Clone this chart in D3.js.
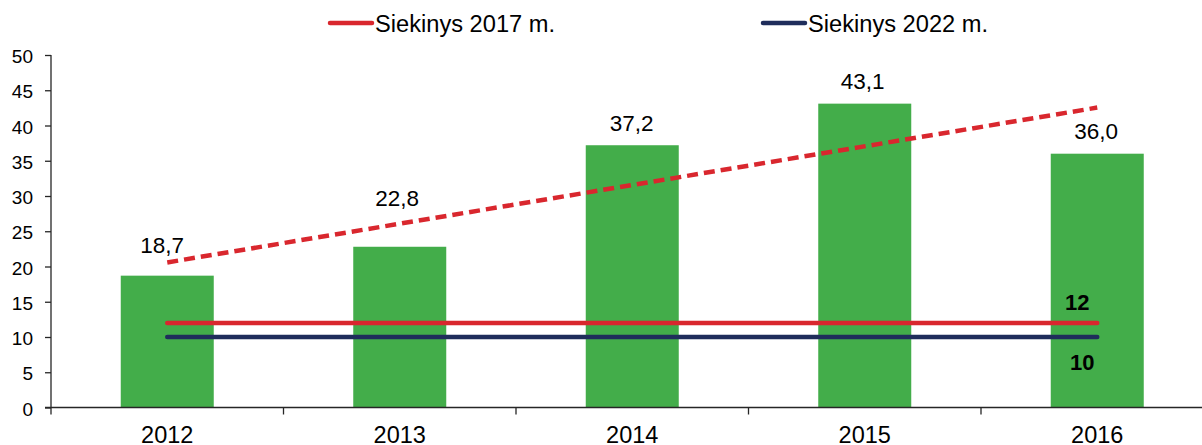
<!DOCTYPE html>
<html>
<head>
<meta charset="utf-8">
<script src="https://cdn.jsdelivr.net/npm/d3@7"></script>
<style>
  html, body { margin: 0; padding: 0; background: #fff; }
  svg { display: block; font-family: "Liberation Sans", Arial, sans-serif; }
</style>
</head>
<body>
<svg id="chart" width="1202" height="445"></svg>
<script>
// ---- data ----
const categories = ["2012", "2013", "2014", "2015", "2016"];
const values = [18.7, 22.8, 37.2, 43.1, 36.0];
const valueLabels = ["18,7", "22,8", "37,2", "43,1", "36,0"];
const targetNames = ["Siekinys 2017 m.", "Siekinys 2022 m."];
const targetValues = [12, 10];
const yTicks = [0, 5, 10, 15, 20, 25, 30, 35, 40, 45, 50];

// ---- styling / label nudges ----
const green = "#43ad4a", red = "#d9272e", navy = "#1f2d5b", axisCol = "#262626";
const targetColors = [red, navy];
const labelDx = [-5, -2.5, -0.5, -2, -1];
const labelDy = [-23, -41, -14, -14.7, -15];

const svg = d3.select("#chart");

const y = d3.scaleLinear().domain([0, 50]).range([407.5, 55]);
const x = d3.scaleBand().domain(categories).range([51, 1213.5]).padding(0);
const bw = x.bandwidth() * 0.4;
const cx = c => x(c) + x.bandwidth() / 2;

// bars
svg.append("g").selectAll("rect").data(categories).join("rect")
  .attr("x", c => cx(c) - bw / 2)
  .attr("width", bw)
  .attr("y", (c, i) => y(values[i]))
  .attr("height", (c, i) => y(0) - y(values[i]))
  .attr("fill", green);

// value labels
svg.append("g").selectAll("text").data(categories).join("text")
  .attr("x", (c, i) => cx(c) + labelDx[i])
  .attr("y", (c, i) => y(values[i]) + labelDy[i])
  .attr("text-anchor", "middle")
  .attr("font-size", 22.5)
  .attr("fill", "#000")
  .text((c, i) => valueLabels[i]);

// target lines
const first = categories[0], last = categories[categories.length - 1];
targetValues.forEach((v, i) => {
  svg.append("line")
    .attr("x1", cx(first)).attr("x2", cx(last))
    .attr("y1", y(v)).attr("y2", y(v))
    .attr("stroke", targetColors[i]).attr("stroke-width", 4.5)
    .attr("stroke-linecap", "round");
});

// target value labels
svg.append("text").attr("x", cx(last) - 20).attr("y", y(targetValues[0]) - 13)
  .attr("text-anchor", "middle").attr("font-size", 22).attr("font-weight", "bold")
  .text(String(targetValues[0]));
svg.append("text").attr("x", cx(last) - 15).attr("y", y(targetValues[1]) + 33)
  .attr("text-anchor", "middle").attr("font-size", 22).attr("font-weight", "bold")
  .text(String(targetValues[1]));

// linear trendline (least squares over the bar values)
const n = values.length;
const mx = d3.mean(d3.range(n)), my = d3.mean(values);
const slope = d3.sum(values, (v, i) => (i - mx) * (v - my)) / d3.sum(d3.range(n), i => (i - mx) ** 2);
const icpt = my - slope * mx;
svg.append("line")
  .attr("x1", cx(first)).attr("y1", y(icpt))
  .attr("x2", cx(last)).attr("y2", y(icpt + slope * (n - 1)))
  .attr("stroke", red).attr("stroke-width", 4.5)
  .attr("stroke-dasharray", "11,6");

// y axis
const yAxis = svg.append("g").attr("transform", "translate(51,0)")
  .call(d3.axisLeft(y).tickValues(yTicks).tickSize(6).tickPadding(12).tickFormat(d3.format("d")));
yAxis.select(".domain").remove();
yAxis.selectAll(".tick line").attr("stroke", axisCol).attr("stroke-width", 1.3);
yAxis.selectAll(".tick text").attr("font-size", 19).attr("fill", "#000")
  .attr("font-family", "Liberation Sans, Arial, sans-serif").attr("dy", "0.4em");
svg.append("line").attr("x1", 51).attr("x2", 51).attr("y1", y(50)).attr("y2", y(0) + 7)
  .attr("stroke", axisCol).attr("stroke-width", 1.3);

// x axis
svg.append("line").attr("x1", 45).attr("x2", 1202).attr("y1", y(0)).attr("y2", y(0))
  .attr("stroke", axisCol).attr("stroke-width", 1.3);
svg.append("g").selectAll("line").data(categories.slice(1)).join("line")
  .attr("x1", c => x(c)).attr("x2", c => x(c))
  .attr("y1", y(0)).attr("y2", y(0) + 7)
  .attr("stroke", axisCol).attr("stroke-width", 1.3);
svg.append("g").selectAll("text").data(categories).join("text")
  .attr("x", c => cx(c)).attr("y", 443)
  .attr("text-anchor", "middle").attr("font-size", 23.5).attr("fill", "#000")
  .text(c => c);

// legend
const legX = [330, 763];
targetNames.forEach((name, i) => {
  svg.append("line").attr("x1", legX[i]).attr("x2", legX[i] + 42)
    .attr("y1", 23).attr("y2", 23)
    .attr("stroke", targetColors[i]).attr("stroke-width", 4.5).attr("stroke-linecap", "round");
  svg.append("text").attr("x", legX[i] + 45).attr("y", 31.5)
    .attr("font-size", 23.5).attr("fill", "#000")
    .attr("textLength", 180).attr("lengthAdjust", "spacingAndGlyphs")
    .text(name);
});
</script>
</body>
</html>
